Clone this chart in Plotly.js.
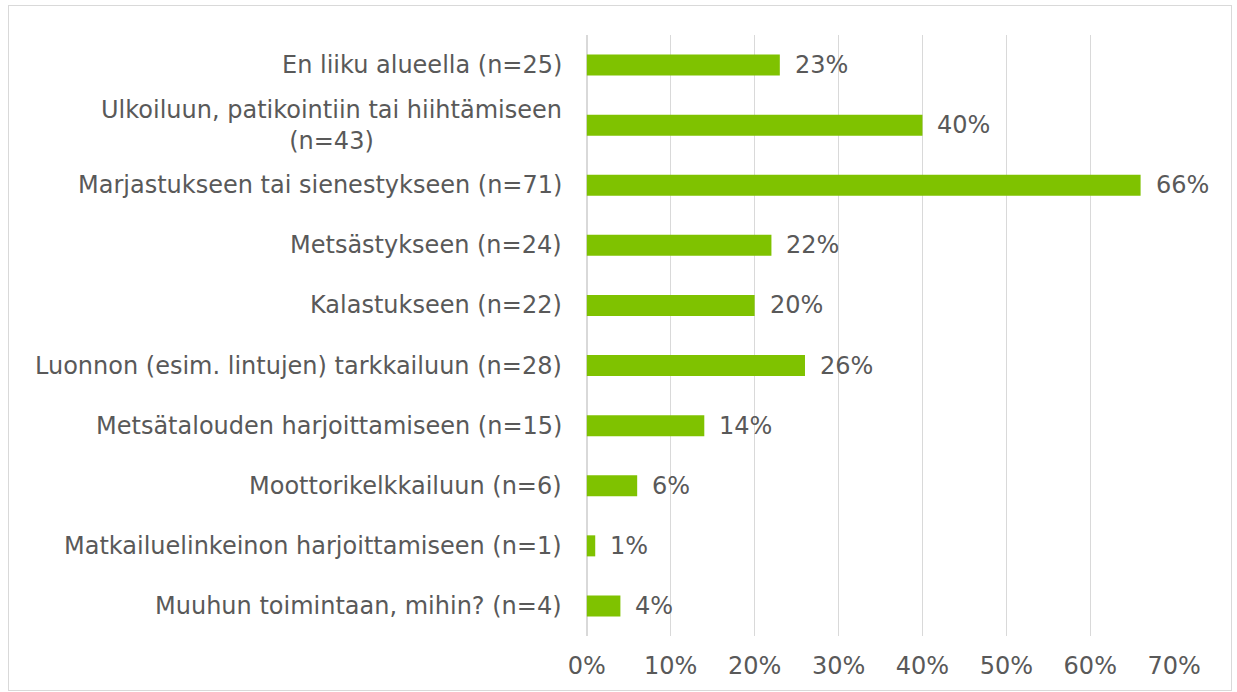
<!DOCTYPE html>
<html>
<head>
<meta charset="utf-8">
<script src="https://cdn.plot.ly/plotly-3.0.1.min.js"></script>
<style>
html,body{margin:0;padding:0;background:#fff;}
#chart{width:1237px;height:692px;}
#frame{position:absolute;left:8px;top:5px;width:1222px;height:684px;border:1px solid #D9D9D9;pointer-events:none;}
</style>
</head>
<body>
<div id="chart"></div>
<div id="frame"></div>
<script>
var categories = [
  "En liiku alueella (n=25)",
  "Ulkoiluun, patikointiin tai hiihtämiseen<br>(n=43)",
  "Marjastukseen tai sienestykseen (n=71)",
  "Metsästykseen (n=24)",
  "Kalastukseen (n=22)",
  "Luonnon (esim. lintujen) tarkkailuun (n=28)",
  "Metsätalouden harjoittamiseen (n=15)",
  "Moottorikelkkailuun (n=6)",
  "Matkailuelinkeinon harjoittamiseen (n=1)",
  "Muuhun toimintaan, mihin? (n=4)"
];
var values = [0.23, 0.40, 0.66, 0.22, 0.20, 0.26, 0.14, 0.06, 0.01, 0.04];
var tickVals = [0, 0.1, 0.2, 0.3, 0.4, 0.5, 0.6, 0.7];
var tickText = ["0%", "10%", "20%", "30%", "40%", "50%", "60%", "70%"];

var FONT = "DejaVu Sans, Verdana, sans-serif";
var TXT = "#595959";
var FS = 24;

var annotations = [];
categories.forEach(function(c, i){
  annotations.push({
    xref: "paper", x: 0, yref: "y", y: c,
    xanchor: "right", yanchor: "middle", align: "center",
    xshift: -22,
    text: c, showarrow: false,
    font: {family: FONT, size: FS, color: TXT}
  });
  annotations.push({
    xref: "x", x: values[i], yref: "y", y: c,
    xanchor: "left", yanchor: "middle", xshift: 13,
    text: Math.round(values[i] * 100) + "%", showarrow: false,
    font: {family: FONT, size: FS, color: TXT}
  });
});

var trace = {
  type: "bar", orientation: "h",
  x: values, y: categories,
  marker: {color: "#7FC200"},
  width: 0.35,
  hoverinfo: "none"
};

var layout = {
  width: 1237, height: 692,
  margin: {l: 586, r: 62, t: 35, b: 56},
  paper_bgcolor: "#ffffff", plot_bgcolor: "#ffffff",
  showlegend: false,
  xaxis: {
    range: [-0.001, 0.701], tickvals: tickVals, ticktext: tickText,
    showgrid: true, gridcolor: "#D9D9D9", gridwidth: 1.5,
    zeroline: true, zerolinecolor: "#D9D9D9", zerolinewidth: 1.5,
    showline: false, ticks: "",
    ticklabelstandoff: 13,
    tickfont: {family: FONT, size: FS, color: TXT},
    fixedrange: true
  },
  yaxis: {
    autorange: "reversed", showticklabels: false,
    showgrid: false, zeroline: false, showline: false, ticks: "",
    fixedrange: true
  },
  annotations: annotations
};

Plotly.newPlot("chart", [trace], layout, {staticPlot: true});
</script>
</body>
</html>
